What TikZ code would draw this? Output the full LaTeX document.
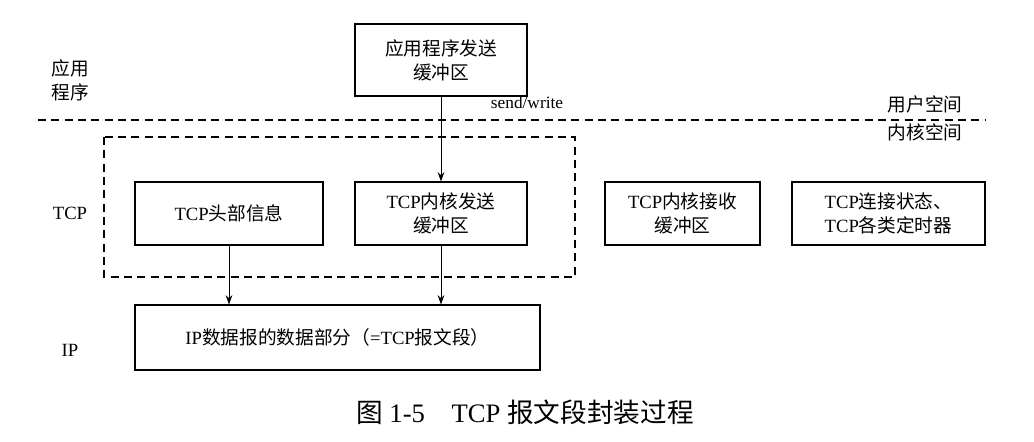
\documentclass[tikz,border=0pt]{standalone}
\usepackage{fontspec}
\setmainfont{Liberation Serif}
\newfontfamily\cjk{Noto Sans CJK SC}
\usetikzlibrary{arrows.meta}
\begin{document}
\begin{tikzpicture}[x=0.75pt,y=-0.75pt,
  box/.style={draw,line width=0.8pt,align=center,font=\fontsize{14}{18}\selectfont},
  lbl/.style={align=left,font=\fontsize{14}{18}\selectfont},
  arr/.style={-{Stealth[length=7pt,width=5pt]},line width=0.7pt}]
\useasboundingbox (0,0) rectangle (1034,442);
\node[box,minimum width=172*0.75pt,minimum height=72*0.75pt] (app) at (441,60) {{\cjk 应用程序发送}\\{\cjk 缓冲区}};
\node[lbl] (applbl) at (70,80) {{\cjk 应用}\\{\cjk 程序}};
\draw[dashed,line width=0.8pt,dash pattern=on 6pt off 4pt] (38,120) coordinate (dl) -- (985,120) coordinate (dr);
\node[font=\fontsize{13}{15}\selectfont] (sw) at (527,103) {send/write};
\node[lbl] (user) at (925,104) {\cjk 用户空间};
\node[lbl] (kern) at (925,132) {\cjk 内核空间};
\draw[dashed,line width=0.8pt,dash pattern=on 6pt off 4pt] (104,137) rectangle (575,277);
\node[lbl] (tcplbl) at (70,213) {TCP};
\node[box,minimum width=188*0.75pt,minimum height=63*0.75pt] (head) at (229,213.5) {TCP{\cjk 头部信息}};
\node[box,minimum width=172*0.75pt,minimum height=63*0.75pt] (send) at (441,213.5) {TCP{\cjk 内核发送}\\{\cjk 缓冲区}};
\node[box,minimum width=155*0.75pt,minimum height=63*0.75pt] (recv) at (682.5,213.5) {TCP{\cjk 内核接收}\\{\cjk 缓冲区}};
\node[box,minimum width=193*0.75pt,minimum height=63*0.75pt] (state) at (888.5,213.5) {TCP{\cjk 连接状态、}\\TCP{\cjk 各类定时器}};
\node[lbl] (iplbl) at (70,350) {IP};
\node[box,minimum width=405*0.75pt,minimum height=65*0.75pt] (ip) at (337.5,337.5) {IP{\cjk 数据报的数据部分（}=TCP{\cjk 报文段）}};
\draw[arr] (app.south) -- (send.north);
\draw[arr] (head.south) -- (head.south |- ip.north);
\draw[arr] (send.south) -- (send.south |- ip.north);
\node[font=\fontsize{20}{22}\selectfont] (cap) at (525,412) {{\cjk 图} 1-5\quad TCP {\cjk 报文段封装过程}};
\end{tikzpicture}
\end{document}
